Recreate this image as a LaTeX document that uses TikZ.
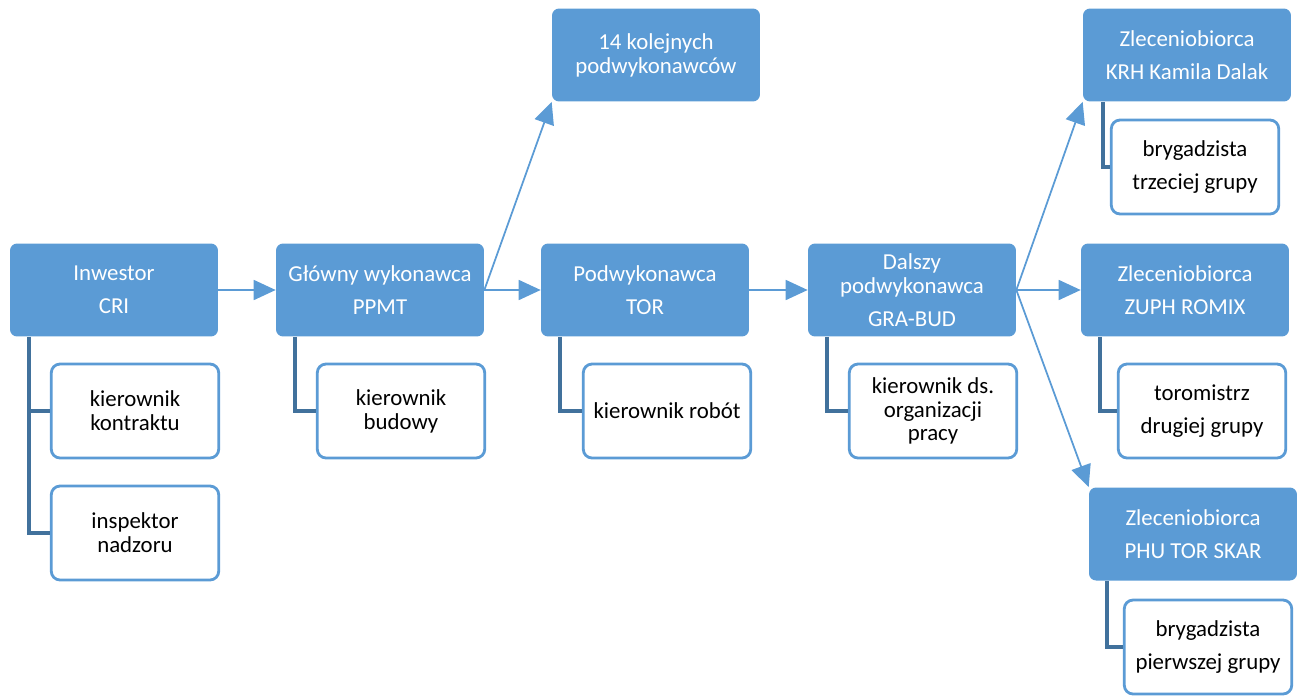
\documentclass[tikz,border=0pt]{standalone}
\usepackage{fontspec}
\setmainfont{Carlito}
\usetikzlibrary{arrows.meta}
\definecolor{boxblue}{HTML}{5B9BD5}
\definecolor{linkblue}{HTML}{41719C}
\begin{document}
\begin{tikzpicture}[x=0.02cm, y=-0.02cm,
  every node/.style={font=\fontsize{13}{13.6}\selectfont, align=center},
  unit/.style={fill=boxblue, text=white, rounded corners=4pt, minimum width=4.16cm, minimum height=1.86cm, inner sep=0pt},
  person/.style={draw=boxblue, line width=1.6pt, fill=white, rounded corners=5pt, minimum width=3.35cm, minimum height=1.88cm, inner sep=0pt},
  flow/.style={draw=boxblue, line width=1pt, -{Triangle[length=0.44cm, width=0.4cm]}},
  branch/.style={draw=linkblue, line width=2.2pt}]
  \useasboundingbox (0,0) rectangle (1301,697);

  % firmy
  \node[unit] (inwestor) at (114,290) {Inwestor\\[5pt]CRI};
  \node[unit] (glowny) at (380,290) {Główny wykonawca\\[5pt]PPMT};
  \node[unit] (tor) at (645,290) {Podwykonawca\\[5pt]TOR};
  \node[unit] (grabud) at (912,290) {Dalszy\\podwykonawca\\[5pt]GRA-BUD};
  \node[unit] (kolejni) at (656,55) {14 kolejnych\\podwykonawców};
  \node[unit] (krh) at (1187,55) {Zleceniobiorca\\[5pt]KRH Kamila Dalak};
  \node[unit] (romix) at (1185,290) {Zleceniobiorca\\[5pt]ZUPH ROMIX};
  \node[unit] (skar) at (1193,534) {Zleceniobiorca\\[5pt]PHU TOR SKAR};

  % osoby
  \node[person] (kontrakt) at (135,411) {kierownik\\kontraktu};
  \node[person] (nadzor) at (135,533) {inspektor\\nadzoru};
  \node[person] (budowa) at (401,411) {kierownik\\budowy};
  \node[person] (roboty) at (667,411) {kierownik robót};
  \node[person] (organizacja) at (933,411) {kierownik ds.\\organizacji\\pracy};
  \node[person] (bryg3) at (1195,167) {brygadzista\\[5pt]trzeciej grupy};
  \node[person] (toromistrz) at (1202,411) {toromistrz\\[5pt]drugiej grupy};
  \node[person] (bryg1) at (1208,647) {brygadzista\\[5pt]pierwszej grupy};

  % podleglosc
  \draw[branch] (inwestor.south west) ++(19,0) coordinate (b1) |- (nadzor.west)
    (b1 |- kontrakt.west) -- (kontrakt.west);
  \draw[branch] (glowny.south west) ++(19,0) |- (budowa.west);
  \draw[branch] (tor.south west) ++(19,0) |- (roboty.west);
  \draw[branch] (grabud.south west) ++(19,0) |- (organizacja.west);
  \draw[branch] (krh.south west) ++(20,0) |- (bryg3.west);
  \draw[branch] (romix.south west) ++(19,0) |- (toromistrz.west);
  \draw[branch] (skar.south west) ++(18,0) |- (bryg1.west);

  % przeplyw
  \draw[flow] (inwestor) -- (glowny);
  \draw[flow] (glowny.east) -- (kolejni.south west);
  \draw[flow] (glowny) -- (tor);
  \draw[flow] (tor) -- (grabud);
  \draw[flow] (grabud.east) -- (krh.south west);
  \draw[flow] (grabud) -- (romix);
  \draw[flow] (grabud.east) -- (skar.north west);
\end{tikzpicture}
\end{document}
